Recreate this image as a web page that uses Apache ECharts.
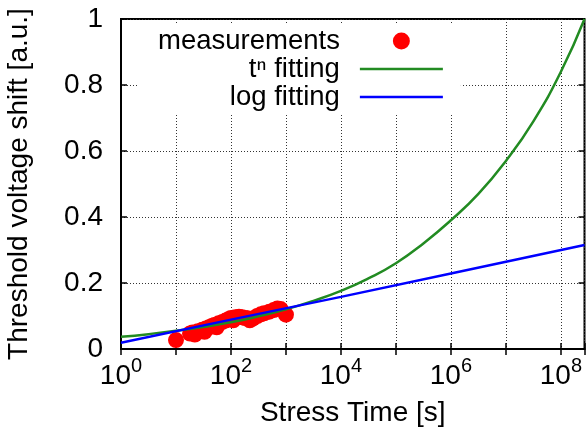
<!DOCTYPE html>
<html>
<head>
<meta charset="utf-8">
<script src="https://cdn.jsdelivr.net/npm/echarts@6/dist/echarts.min.js"></script>
<style>
    html, body { margin: 0; padding: 0; background: #fff; }
    #chart { width: 586px; height: 430px; }
</style>
</head>
<body>
<div id="chart"></div>
<script>
const FONT = '"Liberation Sans", Arial, sans-serif'

// measured points (stress time [s], shift [a.u.])
const measureTimes = [10, 18, 20, 22, 25, 30, 33, 35, 40, 45, 50, 55, 60, 70, 80, 90, 100, 110, 120, 140, 160, 180, 200, 220, 250, 300, 350, 400, 500, 600, 700, 800, 1000]
const measureShift = [0.027, 0.047, 0.05, 0.044, 0.054, 0.058, 0.052, 0.062, 0.066, 0.07, 0.073, 0.066, 0.078, 0.082, 0.086, 0.09, 0.094, 0.087, 0.096, 0.098, 0.096, 0.094, 0.093, 0.087, 0.092, 0.1, 0.105, 0.108, 0.113, 0.118, 0.123, 0.121, 0.104]

// t^n fitting curve
const tnTimes = [1, 3.16, 10, 31.6, 100, 316, 1e3, 3.16e3, 1e4, 3.16e4, 1e5, 3.16e5, 1e6, 3.16e6, 1e7, 3.16e7, 1e8, 2.69e8]
const tnShift = [0.037, 0.045, 0.055, 0.067, 0.081, 0.099, 0.12, 0.146, 0.176, 0.214, 0.26, 0.32, 0.39, 0.47, 0.57, 0.69, 0.84, 1.0]

// log fitting line
const logTimes = [1, 100, 1e4, 1e6, 2.69e8]
const logShift = [0.019, 0.089, 0.158, 0.229, 0.315]

const X_MIN = 1
const X_MAX = 2.69e8

const TN_NAME = 't\u207F fitting'

// flat bar used as legend sample for the fitted lines
const LINE_ICON = 'path://M0,0L83,0L83,2.5L0,2.5Z'

function pairs(xs, ys) {
    let out = []
    for (let i = 0; i < xs.length; i++) {
        out.push([xs[i], ys[i]])
    }
    return out
}

function powerLabel(value) {
    let e = Math.log10(value)
    let r = Math.round(e)
    if (Math.abs(e - r) > 1e-6 || r % 2 != 0) {
        return ''
    }
    return '{b|10}{s|' + r + '}'
}

var dom = document.getElementById('chart')
var myChart = echarts.init(dom, null, { renderer: 'canvas' })

const tickStyle = { show: true, inside: true, length: 6, lineStyle: { color: '#000', width: 1.5 } }

var option = {
    animation: false,
    grid: {
        left: 121, right: 1.5, top: 19, bottom: 81,
        outerBoundsMode: 'none',
        show: true, borderColor: '#000', borderWidth: 2
    },
    legend: {
        orient: 'vertical',
        align: 'right',
        left: 138,
        top: 25,
        padding: [2, 18, 2, 20],
        backgroundColor: '#fff',
        itemWidth: 83,
        itemHeight: 17,
        itemGap: 0,
        textStyle: {
            fontFamily: FONT, fontSize: 27.5, color: '#000', lineHeight: 22,
            padding: [0, 15, 0, 0]
        },
        data: [
            { name: 'measurements', icon: 'circle' },
            { name: TN_NAME, icon: LINE_ICON },
            { name: 'log fitting', icon: LINE_ICON }
        ]
    },
    xAxis: [
        {
            type: 'log',
            logBase: 10,
            min: X_MIN,
            max: X_MAX,
            name: 'Stress Time [s]',
            nameLocation: 'middle',
            nameGap: 50,
            nameTextStyle: { fontFamily: FONT, fontSize: 28, color: '#000' },
            axisLine: { show: true, lineStyle: { color: '#000', width: 2 } },
            axisTick: tickStyle,
            axisLabel: {
                margin: 13,
                formatter: powerLabel,
                rich: {
                    b: { fontFamily: FONT, fontSize: 28, color: '#000', lineHeight: 28, verticalAlign: 'bottom' },
                    s: { fontFamily: FONT, fontSize: 20, color: '#000', lineHeight: 20, padding: [0, 0, 14, 0], verticalAlign: 'bottom' }
                }
            },
            splitLine: { show: true, lineStyle: { color: '#333', width: 1, type: [1, 2] } }
        },
        {
            type: 'log',
            logBase: 10,
            min: X_MIN,
            max: X_MAX,
            position: 'top',
            z: 6,
            axisLine: { show: false },
            axisTick: tickStyle,
            axisLabel: { show: false },
            splitLine: { show: false }
        }
    ],
    yAxis: [
        {
            type: 'value',
            min: 0,
            max: 1,
            interval: 0.2,
            name: 'Threshold voltage shift [a.u.]',
            nameLocation: 'middle',
            nameGap: 88,
            nameTextStyle: { fontFamily: FONT, fontSize: 28, color: '#000' },
            axisLine: { show: true, lineStyle: { color: '#000', width: 2 } },
            axisTick: tickStyle,
            axisLabel: { margin: 18, fontFamily: FONT, fontSize: 28, color: '#000' },
            splitLine: { show: true, lineStyle: { color: '#333', width: 1, type: [1, 2] } }
        },
        {
            type: 'value',
            min: 0,
            max: 1,
            interval: 0.2,
            position: 'right',
            axisLine: { show: false },
            axisTick: tickStyle,
            axisLabel: { show: false },
            splitLine: { show: false }
        }
    ],
    series: [
        {
            name: 'measurements',
            type: 'scatter',
            symbolSize: 16,
            itemStyle: { color: '#ff0000', opacity: 1 },
            data: pairs(measureTimes, measureShift)
        },
        {
            name: TN_NAME,
            type: 'line',
            smooth: true,
            showSymbol: false,
            symbol: 'none',
            lineStyle: { color: '#228b22', width: 2.5 },
            itemStyle: { color: '#228b22' },
            data: pairs(tnTimes, tnShift)
        },
        {
            name: 'log fitting',
            type: 'line',
            showSymbol: false,
            symbol: 'none',
            lineStyle: { color: '#0000ff', width: 2.5 },
            itemStyle: { color: '#0000ff' },
            data: pairs(logTimes, logShift)
        }
    ]
}

option && myChart.setOption(option)
window.addEventListener('resize', myChart.resize)
</script>
</body>
</html>
